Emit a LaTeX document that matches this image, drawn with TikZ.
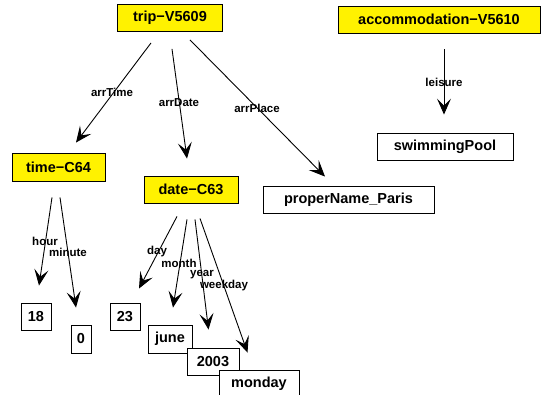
\documentclass[tikz,border=0pt]{standalone}
\usepackage{fontspec}
\setmainfont{Liberation Sans}
\usetikzlibrary{arrows.meta}
\begin{document}
\begin{tikzpicture}[x=1pt,y=-1pt,
  ybox/.style={draw=black,line width=0.9pt,fill=yellow,inner sep=0pt,font=\bfseries\fontsize{14.5}{16}\selectfont},
  wbox/.style={draw=black,line width=0.9pt,fill=white,inner sep=0pt,font=\bfseries\fontsize{14.5}{16}\selectfont},
  lbl/.style={inner sep=0pt,font=\bfseries\fontsize{11.5}{13}\selectfont},
  edge/.style={line width=0.9pt,-{Stealth[length=16pt,width=14pt,inset=7pt]}}]
\useasboundingbox (0,0) rectangle (542,395);
\node[ybox,minimum width=105pt,minimum height=27pt] (trip) at (170,18) {trip\textminus V5609};
\node[ybox,minimum width=202pt,minimum height=27pt] (acc) at (439,19.5) {accommodation\textminus V5610};
\node[ybox,minimum width=93pt,minimum height=28pt] (time) at (58.5,167) {time\textminus C64};
\node[ybox,minimum width=94pt,minimum height=27pt] (date) at (191,189.5) {date\textminus C63};
\node[wbox,minimum width=171pt,minimum height=27pt] (paris) at (348.5,199.5) {properName\_Paris};
\node[wbox,minimum width=136pt,minimum height=27pt] (pool) at (445,146.5) {swimmingPool};
\node[wbox,minimum width=30pt,minimum height=27pt] (n18) at (36,316.5) {18};
\node[wbox,minimum width=20pt,minimum height=28pt] (n0) at (81,339) {0};
\node[wbox,minimum width=30pt,minimum height=27pt] (n23) at (125,316.5) {23};
\node[wbox,minimum width=44pt,minimum height=28pt] (june) at (170,339) {june};
\node[wbox,minimum width=52pt,minimum height=27pt] (y2003) at (213,361.5) {2003};
\node[wbox,minimum width=80pt,minimum height=27pt] (monday) at (259,383.5) {monday};

\draw[edge] ([xshift=-19pt,yshift=-11pt]trip.south) -- ([xshift=17.5pt,yshift=10pt]time.north);
\draw[edge] ([xshift=2pt,yshift=-17pt]trip.south) -- ([xshift=-4pt,yshift=17pt]date.north);
\draw[edge] ([xshift=20pt,yshift=-8pt]trip.south) -- ([xshift=-23.5pt,yshift=9pt]paris.north);
\draw[edge] ([xshift=5pt,yshift=-16pt]acc.south) -- ([xshift=-1pt,yshift=18pt]pool.north);
\draw[edge] ([xshift=-6.5pt,yshift=-16pt]time.south) -- ([xshift=3pt,yshift=17pt]n18.north);
\draw[edge] ([xshift=1.5pt,yshift=-16pt]time.south) -- ([xshift=-5pt,yshift=17pt]n0.north);
\draw[edge] ([xshift=-14pt,yshift=-13pt]date.south) -- ([xshift=14pt,yshift=14pt]n23.north);
\draw[edge] ([xshift=-4pt,yshift=-16pt]date.south) -- ([xshift=3pt,yshift=17pt]june.north);
\draw[edge] ([xshift=4pt,yshift=-16pt]date.south) -- ([xshift=-4.5pt,yshift=18pt]y2003.north);
\draw[edge] ([xshift=9pt,yshift=-15pt]date.south) -- ([xshift=-11.5pt,yshift=17pt]monday.north);

\node[lbl] (l1) at (112,92) {arrTime};
\node[lbl] (l2) at (179,103) {arrDate};
\node[lbl] (l3) at (257,108) {arrPlace};
\node[lbl] (l4) at (444,82) {leisure};
\node[lbl] (l5) at (45,241) {hour};
\node[lbl] (l6) at (68,252) {minute};
\node[lbl] (l7) at (157,252) {day};
\node[lbl] (l8) at (179,263) {month};
\node[lbl] (l9) at (202,275) {year};
\node[lbl] (l10) at (224,286) {weekday};
\end{tikzpicture}
\end{document}
